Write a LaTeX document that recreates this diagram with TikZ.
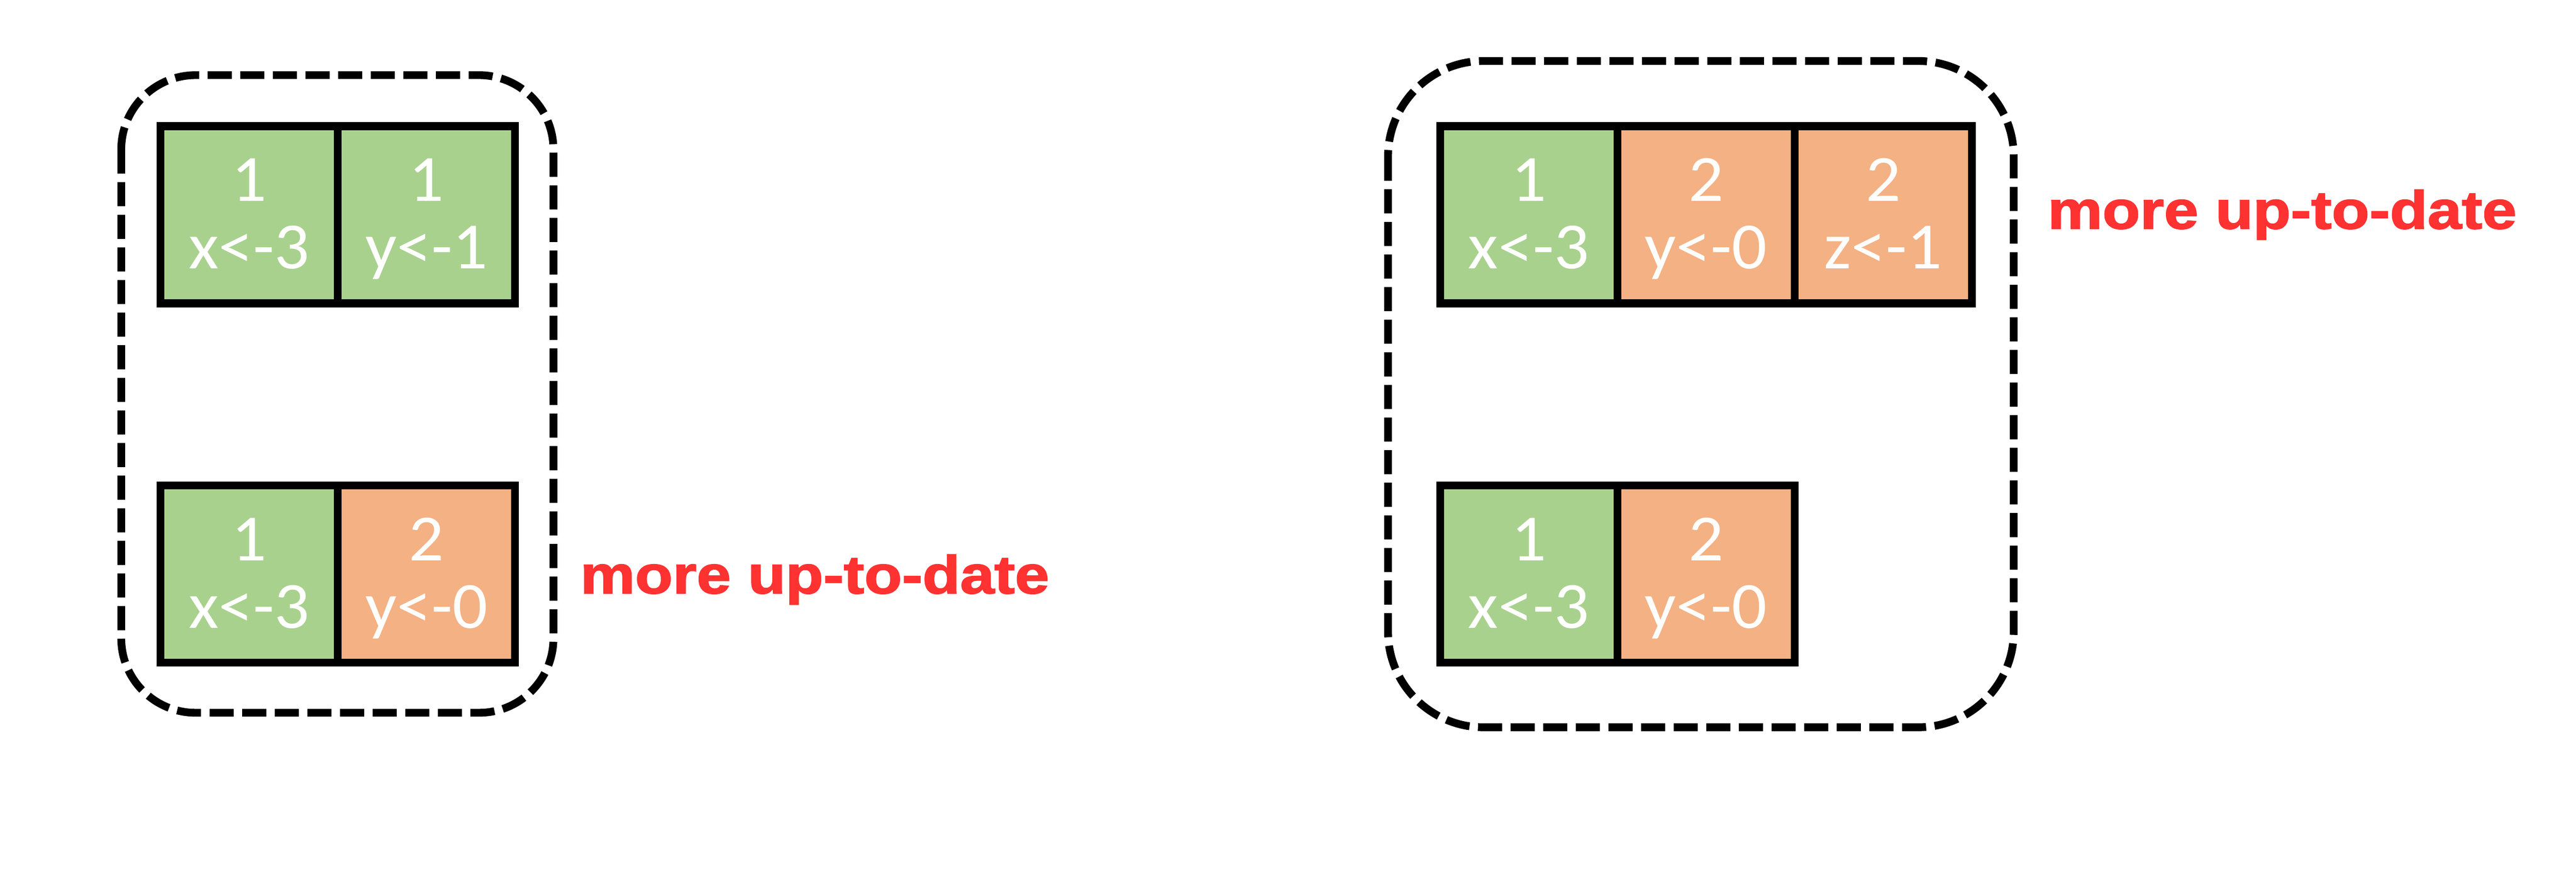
\documentclass[tikz,border=0pt]{standalone}
\usepackage{fontspec}
\newfontfamily\cellfont[FakeStretch=1.05]{Carlito}
\newfontfamily\notefont[FakeStretch=1.15,FakeBold=2]{Liberation Sans Bold}
\definecolor{cgreen}{RGB}{169,209,142}
\definecolor{corange}{RGB}{244,177,131}
\definecolor{cred}{RGB}{255,50,50}
\tikzset{
  cellbox/.style={draw=black, line width=0.22cm, rectangle, inner sep=0pt, outer sep=0pt,
    minimum width=5cm, minimum height=5cm},
  celltxt/.style={anchor=base, inner sep=0pt, text=white,
    font=\cellfont\fontsize{53}{60}\selectfont},
  dashbox/.style={draw=black, line width=0.22cm, dash pattern=on 0.68cm off 0.24cm},
  note/.style={anchor=base west, inner sep=0pt, text=cred,
    font=\notefont\fontsize{43}{50}\selectfont}
}
\newcommand\mkcell[5]{%
  \node[cellbox, fill=#3] (#1) at (#2) {};
  \node[celltxt] (#1-a) at ([yshift=0.38cm]#1.center) {#4};
  \node[celltxt] (#1-b) at ([yshift=-1.52cm]#1.center) {#5};
}
\begin{document}
\begin{tikzpicture}
\useasboundingbox (0,0) rectangle (72.66,-24.60);
% left group
\draw[dashbox, rounded corners=2.1cm] (3.42,-2.12) rectangle (15.61,-20.11);
\mkcell{la}{7.03,-6.06}{cgreen}{1}{x<-3}
\mkcell{lb}{12.03,-6.06}{cgreen}{1}{y<-1}
\mkcell{lc}{7.03,-16.20}{cgreen}{1}{x<-3}
\mkcell{ld}{12.03,-16.20}{corange}{2}{y<-0}
\node[note] (lnote) at (16.36,-16.74) {more up-to-date};
% right group
\draw[dashbox, rounded corners=2.7cm] (39.15,-1.72) rectangle (56.80,-20.52);
\mkcell{ra}{43.12,-6.06}{cgreen}{1}{x<-3}
\mkcell{rb}{48.12,-6.06}{corange}{2}{y<-0}
\mkcell{rc}{53.12,-6.06}{corange}{2}{z<-1}
\mkcell{rd}{43.12,-16.20}{cgreen}{1}{x<-3}
\mkcell{re}{48.12,-16.20}{corange}{2}{y<-0}
\node[note] (rnote) at (57.75,-6.45) {more up-to-date};
\end{tikzpicture}
\end{document}
